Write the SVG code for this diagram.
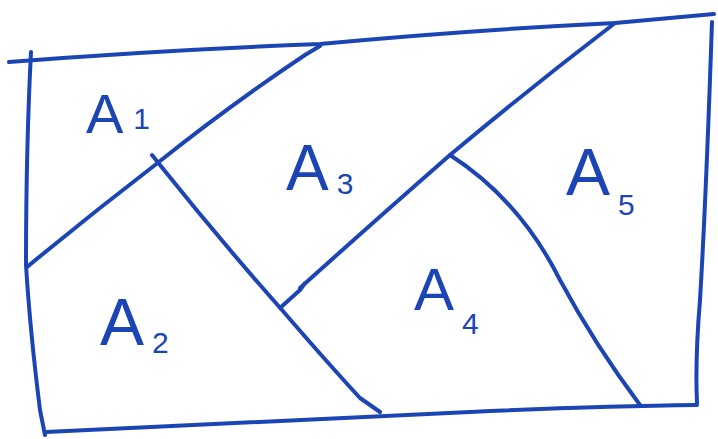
<svg xmlns="http://www.w3.org/2000/svg" width="718" height="439" viewBox="0 0 718 439">
<style>
.s{fill:none;stroke:#1b45b5;stroke-width:4;stroke-linecap:round;stroke-linejoin:round}
.a{font-family:"Liberation Sans",Arial,sans-serif;fill:#1b45b5;font-size:56px}
.d{font-size:30px}
</style>
<rect width="718" height="439" fill="#fff"/>
<g id="connectors">
<path class="s" d="M9,62 Q160,50 320,44 Q470,30 615,23 Q670,18 714,14"/>
<path class="s" d="M31,52 Q26,150 26,265 Q30,330 40,410 L45,435"/>
<path class="s" d="M712,22 Q706,200 700,300 Q695,360 697,403"/>
<path class="s" d="M46,432 Q300,420 470,412 Q600,406 697,405"/>
<path class="s" d="M27,267 Q90,215 155,165 Q230,105 305,55 L320,46"/>
<path class="s" d="M152,155 L160,165 Q220,240 282,310 Q325,360 360,398 L380,412"/>
<path class="s" d="M280,308 L300,290 L305,283 M300,288 Q370,225 450,155 Q530,88 615,23"/>
<path class="s" d="M450,155 Q520,200 560,280 Q595,345 640,405"/>
</g>
<g id="A1"><text class="a" x="86" y="133">A<tspan class="d" dx="10" dy="-4">1</tspan></text></g>
<g id="A2"><text class="a" x="100" y="345" style="font-size:66px">A<tspan class="d" dx="8" dy="8">2</tspan></text></g>
<g id="A3"><text class="a" x="286" y="190" style="font-size:64px">A<tspan class="d" dx="8" dy="4">3</tspan></text></g>
<g id="A4"><text class="a" x="414" y="310" style="font-size:60px">A<tspan class="d" dx="8" dy="24">4</tspan></text></g>
<g id="A5"><text class="a" x="566" y="195" style="font-size:66px">A<tspan class="d" dx="8" dy="20">5</tspan></text></g>
</svg>
